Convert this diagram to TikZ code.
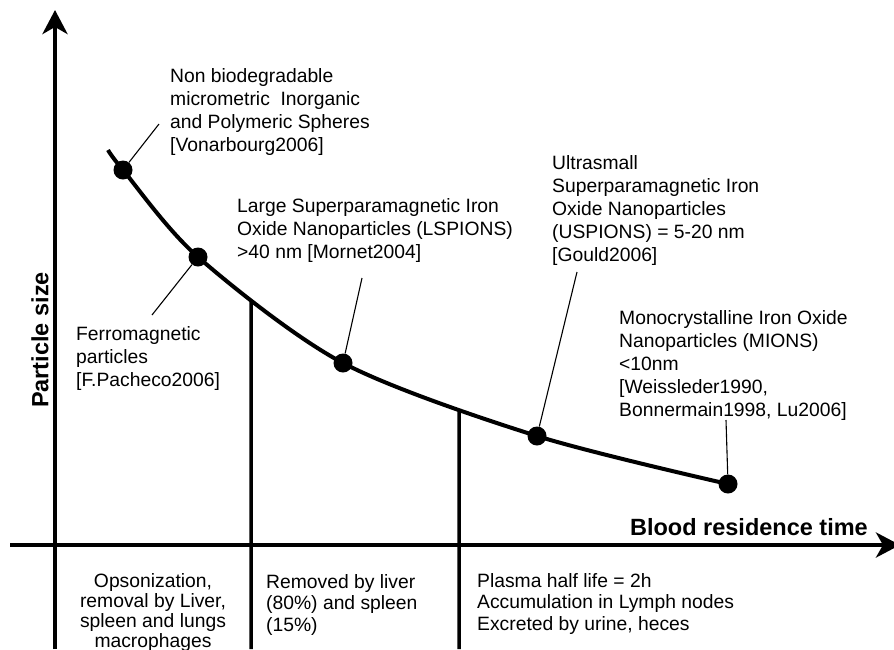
\documentclass[tikz,border=0pt]{standalone}
\usepackage{fontspec}
\setmainfont{Liberation Sans}
\usetikzlibrary{arrows.meta,intersections}
\begin{document}
\begin{tikzpicture}[x=1pt,y=-1pt,
  axis/.style={line width=4.5pt, -{Stealth[length=24pt,width=25pt,inset=7pt]}},
  divider/.style={line width=3.5pt},
  curveline/.style={line width=4pt},
  dotnode/.style={circle, fill=black, inner sep=0pt, minimum size=19pt},
  leader/.style={line width=1.1pt},
  lbl/.style={align=left, anchor=north west, inner sep=0pt, font=\fontsize{19.3}{23}\selectfont},
  celltext/.style={align=left, anchor=north west, inner sep=0pt, font=\fontsize{19.3}{21.5}\selectfont},
  cell/.style={align=center, anchor=north, inner sep=0pt, font=\fontsize{19.3}{20}\selectfont},
  axlabel/.style={font=\bfseries\fontsize{23.5}{28}\selectfont, inner sep=0pt}
]
\useasboundingbox (0,0) rectangle (894,649);
% axes
\coordinate (yb) at (55,649);
\coordinate (yt) at (55,10);
\draw[axis] (yb) -- (yt);
\coordinate (xl) at (10,545);
\coordinate (xr) at (900,545);
\draw[axis] (xl) -- (xr);
\node[axlabel, rotate=90] (ylab) at (40,340) {Particle size};
\node[axlabel, anchor=base east] (xlab) at (868,535) {Blood residence time};
% curve
\coordinate (c0) at (108,150);
\coordinate (c1) at (123,170);
\coordinate (c2) at (198,257);
\coordinate (c3) at (343,363);
\coordinate (c4) at (537,436);
\coordinate (c5) at (728,484);
\draw[curveline, name path=curve] plot[smooth] coordinates {(c0) (c1) (c2) (c3) (c4) (c5)};
% dividers
\path[name path=v1] (251,0) -- (251,649);
\path[name path=v2] (459,0) -- (459,649);
\path[name intersections={of=curve and v1, by=t1}];
\path[name intersections={of=curve and v2, by=t2}];
\coordinate (b1) at (251,649);
\coordinate (b2) at (459,649);
\draw[divider] (t1) -- (b1);
\draw[divider] (t2) -- (b2);
% dots
\node[dotnode] (d1) at (c1) {};
\node[dotnode] (d2) at (c2) {};
\node[dotnode] (d3) at (c3) {};
\node[dotnode] (d4) at (c4) {};
\node[dotnode] (d5) at (c5) {};
% leaders
\coordinate (e1) at (159,124);
\coordinate (e2) at (152,315);
\coordinate (e3) at (362,278);
\coordinate (e4) at (577,272);
\coordinate (e5) at (726,420);
\draw[leader] (d1) -- (e1);
\draw[leader] (d2) -- (e2);
\draw[leader] (d3) -- (e3);
\draw[leader] (d4) -- (e4);
\draw[leader] (d5) -- (e5);
% labels
\node[lbl] (n1) at (170,68) {Non biodegradable\\micrometric\ \ Inorganic\\and Polymeric Spheres\\{[}Vonarbourg2006]};
\node[lbl] (n2) at (76,326) {Ferromagnetic\\particles\\{[}F.Pacheco2006]};
\node[lbl] (n3) at (237,198) {Large Superparamagnetic Iron\\Oxide Nanoparticles (LSPIONS)\\>40 nm {[}Mornet2004]};
\node[lbl] (n4) at (552,155) {Ultrasmall\\Superparamagnetic Iron\\Oxide Nanoparticles\\(USPIONS) = 5-20 nm\\{[}Gould2006]};
\node[lbl] (n5) at (619,310) {Monocrystalline Iron Oxide\\Nanoparticles (MIONS)\\<10nm\\{[}Weissleder1990,\\Bonnermain1998, Lu2006]};
% bottom cells
\node[cell] (k1) at (153,573) {Opsonization,\\removal by Liver,\\spleen and lungs\\macrophages};
\node[celltext] (k2) at (266,574) {Removed by liver\\(80\%) and spleen\\(15\%)};
\node[celltext] (k3) at (477,573) {Plasma half life = 2h\\Accumulation in Lymph nodes\\Excreted by urine, heces};
\end{tikzpicture}
\end{document}
